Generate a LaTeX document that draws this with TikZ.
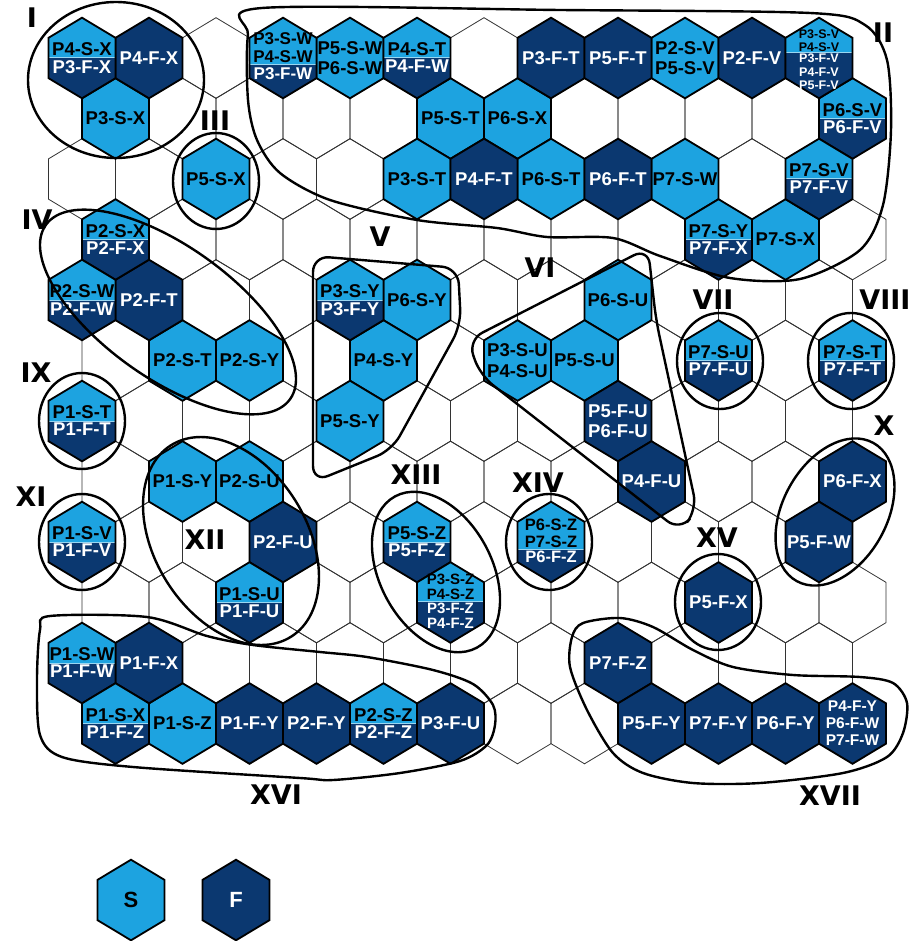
\documentclass[tikz,border=0pt]{standalone}
\usepackage{fontspec}
\setmainfont{Liberation Sans}
\newfontfamily\numfont{DejaVu Sans}
\definecolor{scol}{RGB}{29,163,224}
\definecolor{fcol}{RGB}{11,56,112}

\tikzset{
  hexcell/.pic={\path[pic actions] (0,-40.3) -- (33.5,-20.15) -- (33.5,20.15) -- (0,40.3) -- (-33.5,20.15) -- (-33.5,-20.15) -- cycle;},
  gridhex/.style={draw=black!80, line width=0.8pt},
  shex/.style={fill=scol, draw=black, line width=1.8pt},
  fhex/.style={fill=fcol, draw=black, line width=1.8pt},
  hexedge/.style={draw=black, line width=1.8pt},
  stext/.style={text=black, font=\bfseries\fontsize{18.5}{20.5}\selectfont, align=center, inner sep=1pt},
  ftext/.style={stext, text=white},
  keytext/.style={font=\bfseries\fontsize{22}{22}\selectfont, inner sep=0pt},
  group/.style={draw=black, line width=2.4pt},
  numeral/.style={font=\numfont\bfseries\fontsize{27}{27}\selectfont, inner sep=0pt},
}

% centre of the hexagon in row #1, column #2
\newcommand\cellxy[2]{%
  \pgfmathsetmacro\cx{82+67*#2+33.5*mod(#1,2)}%
  \pgfmathsetmacro\cy{58+60.5*#1}}

% half S / half F cell: [text options] row, col, split, S text, F text
\newcommand\splithex[6][]{%
  \cellxy{#2}{#3}
  \begin{scope}[shift={(\cx,\cy)}]
    \fill[fcol] (-33.5,#4) -- (33.5,#4) -- (33.5,20.15) -- (0,40.3) -- (-33.5,20.15) -- cycle;
    \fill[scol] (-33.5,#4) -- (33.5,#4) -- (33.5,-20.15) -- (0,-40.3) -- (-33.5,-20.15) -- cycle;
    \draw[white!55!scol, line width=1pt] (-33.5,#4) -- (33.5,#4);
    \pic[hexedge] at (0,0) {hexcell};
    \node[stext, anchor=south, inner sep=2pt, #1] (s#2-#3) at (0,#4) {#5};
    \node[ftext, anchor=north, inner sep=2pt, #1] (f#2-#3) at (0,#4) {#6};
  \end{scope}}

\begin{document}
\begin{tikzpicture}[x=1pt, y=-1pt]
\useasboundingbox (0,0) rectangle (911,941);

% background grid
\foreach \r in {0,...,11}
  \foreach \c in {0,...,11} {
    \cellxy{\r}{\c}
    \pic[gridhex] at (\cx,\cy) {hexcell};
  }

% S cells
\foreach \r/\c/\t in {0/4/{P5-S-W\\P6-S-W}, 0/9/{P2-S-V\\P5-S-V}, 1/0/P3-S-X, 1/5/P5-S-T,
    1/6/P6-S-X, 2/2/P5-S-X, 2/5/P3-S-T, 2/7/P6-S-T, 2/9/P7-S-W, 3/10/P7-S-X,
    4/5/P6-S-Y, 4/8/P6-S-U, 5/1/P2-S-T, 5/2/P2-S-Y, 5/4/P4-S-Y, 5/6/{P3-S-U\\P4-S-U},
    5/7/P5-S-U, 6/4/P5-S-Y, 7/1/P1-S-Y, 7/2/P2-S-U, 11/1/P1-S-Z} {
  \cellxy{\r}{\c}
  \pic[shex] at (\cx,\cy) {hexcell};
  \node[stext] (s\r-\c) at (\cx,\cy) {\t};
}

% F cells
\foreach \r/\c/\t in {0/1/P4-F-X, 0/7/P3-F-T, 0/8/P5-F-T, 0/10/P2-F-V, 2/6/P4-F-T,
    2/8/P6-F-T, 4/1/P2-F-T, 6/8/{P5-F-U\\P6-F-U}, 7/8/P4-F-U, 7/11/P6-F-X, 8/3/P2-F-U,
    8/11/P5-F-W, 9/9/P5-F-X, 10/1/P1-F-X, 10/8/P7-F-Z, 11/2/P1-F-Y, 11/3/P2-F-Y,
    11/5/P3-F-U, 11/8/P5-F-Y, 11/9/P7-F-Y, 11/10/P6-F-Y} {
  \cellxy{\r}{\c}
  \pic[fhex] at (\cx,\cy) {hexcell};
  \node[ftext] (f\r-\c) at (\cx,\cy) {\t};
}
\cellxy{11}{11}
\pic[fhex] at (\cx,\cy) {hexcell};
\node[ftext, font=\bfseries\fontsize{15.5}{17}\selectfont] (f11-11) at (\cx,\cy) {P4-F-Y\\P6-F-W\\P7-F-W};

% split cells
\foreach \r/\c/\a/\b in {0/0/P4-S-X/P3-F-X, 0/5/P4-S-T/P4-F-W, 1/11/P6-S-V/P6-F-V,
    2/11/P7-S-V/P7-F-V, 3/0/P2-S-X/P2-F-X, 3/9/P7-S-Y/P7-F-X, 4/0/P2-S-W/P2-F-W,
    4/4/P3-S-Y/P3-F-Y, 5/9/P7-S-U/P7-F-U, 5/11/P7-S-T/P7-F-T, 6/0/P1-S-T/P1-F-T,
    8/0/P1-S-V/P1-F-V, 8/5/P5-S-Z/P5-F-Z, 9/2/P1-S-U/P1-F-U, 10/0/P1-S-W/P1-F-W,
    11/0/P1-S-X/P1-F-Z, 11/4/P2-S-Z/P2-F-Z}
  \splithex{\r}{\c}{0}{\a}{\b};
\splithex[font=\bfseries\fontsize{17}{18}\selectfont]{0}{3}{7}{P3-S-W\\P4-S-W}{P3-F-W}
\splithex[font=\bfseries\fontsize{12.5}{13.5}\selectfont, inner sep=1pt]{0}{11}{-5}{P3-S-V\\P4-S-V}{P3-F-V\\P4-F-V\\P5-F-V}
\splithex[font=\bfseries\fontsize{16.5}{17}\selectfont, inner sep=1.5pt]{8}{7}{7}{P6-S-Z\\P7-S-Z}{P6-F-Z}
\splithex[font=\bfseries\fontsize{15}{15}\selectfont, inner sep=1.5pt]{9}{5}{-1}{P3-S-Z\\P4-S-Z}{P3-F-Z\\P4-F-Z}

% groups
\draw[group] (116,80) ellipse (88 and 78);
\draw[group] plot[smooth cycle] coordinates {(262,8) (560,10) (810,13) (865,25) (887,60)
  (891,130) (883,205) (860,250) (800,279) (730,278) (660,256) (613,238) (547,237)
  (497,228) (417,220) (330,200) (280,173) (257,140) (248,100) (248,35)};
\draw[group] (216,181) ellipse (43 and 48);
\draw[group, rotate around={-35.5:(168,312)}] (168,312) ellipse (150 and 66);
\draw[group, rounded corners=16] (313,256) -- (458,268) -- (461,325) -- (392,450) -- (313,482) -- cycle;
\draw[group, rounded corners=16] (468,340) -- (648,248) -- (656,320) -- (697,510) -- (680,531) -- (480,375) -- cycle;
\draw[group] (720,361) ellipse (43 and 48);
\draw[group] (851,361) ellipse (43 and 48);
\draw[group] (82,421) ellipse (43 and 48);
\draw[group, rotate around={61:(835,512)}] (835,512) ellipse (79 and 52);
\draw[group] (82,542) ellipse (43 and 48);
\draw[group, rotate around={-58:(231,541)}] (231,541) ellipse (113 and 76);
\draw[group, rotate around={-61.6:(436,572)}] (436,572) ellipse (86 and 56);
\draw[group] (549,542) ellipse (43 and 48);
\draw[group] (718,602) ellipse (43 and 48);
\draw[group] plot[smooth cycle] coordinates {(50,616) (147,617) (207,636) (253,645)
  (320,652) (367,657) (433,670) (473,684) (493,705) (495,725) (487,745) (460,761)
  (400,773) (333,780) (300,778) (133,767) (62,757) (40,735) (37,680) (40,630)};
\draw[group] plot[smooth cycle] coordinates {(583,623) (620,618) (653,627) (693,650)
  (733,667) (793,675) (860,677) (893,683) (907,703) (903,733) (887,757) (843,773)
  (760,783) (693,783) (643,773) (613,753) (587,710) (570,667) (572,637)};

% group numbers
\node[numeral] (nI) at (32,18) {I};
\node[numeral] (nII) at (883,33) {II};
\node[numeral] (nIII) at (215,121) {III};
\node[numeral] (nIV) at (37,220) {IV};
\node[numeral] (nV) at (380,237) {V};
\node[numeral] (nVI) at (540,268) {VI};
\node[numeral] (nVII) at (713,300) {VII};
\node[numeral] (nVIII) at (885,300) {VIII};
\node[numeral] (nIX) at (36,373) {IX};
\node[numeral] (nX) at (884,426) {X};
\node[numeral] (nXI) at (31,497) {XI};
\node[numeral] (nXII) at (205,540) {XII};
\node[numeral] (nXIII) at (416,475) {XIII};
\node[numeral] (nXIV) at (538,483) {XIV};
\node[numeral] (nXV) at (717,538) {XV};
\node[numeral] (nXVI) at (276,795) {XVI};
\node[numeral] (nXVII) at (830,796) {XVII};

% key
\pic[shex] at (131,900) {hexcell};
\node[keytext, text=black] (keyS) at (131,900) {S};
\pic[fhex] at (236,900) {hexcell};
\node[keytext, text=white] (keyF) at (236,900) {F};
\end{tikzpicture}
\end{document}
